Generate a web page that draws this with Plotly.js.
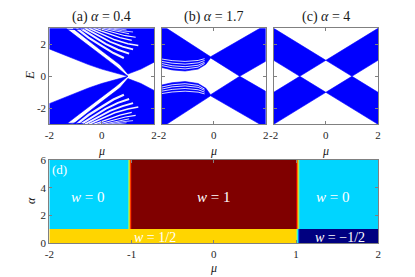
<!DOCTYPE html>
<html><head><meta charset="utf-8">
<script src="https://cdn.plot.ly/plotly-3.0.1.min.js"></script>
<style>html,body{margin:0;padding:0;background:#fff}#chart{width:415px;height:277px}</style>
</head><body><div id="chart"></div>
<script>
// ---------------- data ----------------
const tickMu = [-2, 0, 2];
const tickMuText = ['-2', '0', '2'];
const tickE = [-2, 0, 2];
const tickEText = ['-2', '0', '2'];
const tickMuD = [-2, -1, 0, 1, 2];
const tickMuDText = ['-2', '-1', '0', '1', '2'];
const tickAlpha = [0, 2, 4, 6];
const tickAlphaText = ['0', '2', '4', '6'];

// panel (a): alpha = 0.4  (positive-energy branch; spectrum is +/- symmetric)
const aStripeUpMu = [-2.0, -1.36, -0.9, -0.4, 0.1, 0.55, 1.0];
const aStripeUpE  = [3.0, 3.0, 2.42, 1.8, 1.18, 0.62, 0.0];
const aStripeLoMu = [1.0, 0.5, 0.0, -0.5, -1.0, -1.5, -2.0];
const aStripeLoE  = [0.0, 0.21, 0.45, 0.73, 1.07, 1.38, 1.71];
// upper-right band (densely packed levels)
const aFanMu = [-1.1, -0.62, -0.15, 0.3, 0.7, 1.0, 1.5, 2.0, 2.0];
const aFanE  = [3.0, 2.36, 1.78, 1.22, 0.72, 0.14, 0.45, 0.88, 3.0];
// visible gaps between levels in the upper-right band (wide near the top-left, narrow to the right)
const aGapMu = [
  [-0.96, -0.5, 0.0, 0.45, 0.85],
  [-0.8, -0.32, 0.15, 0.62, 1.05],
  [-0.64, -0.15, 0.32, 0.8, 1.2],
  [-0.48, 0.03, 0.5, 1.0, 1.4],
  [-0.31, 0.22, 0.7, 1.15],
  [-0.13, 0.42, 0.9, 1.3],
  [0.06, 0.6, 1.05],
  [0.26, 0.8, 1.2],
  [0.46, 0.95]
];
const aGapE = [
  [3.0, 2.42, 1.9, 1.45, 1.15],
  [3.0, 2.5, 2.03, 1.66, 1.42],
  [3.0, 2.56, 2.16, 1.86, 1.68],
  [3.0, 2.61, 2.28, 2.04, 1.92],
  [3.0, 2.67, 2.42, 2.25],
  [3.0, 2.73, 2.54, 2.44],
  [3.0, 2.79, 2.66],
  [3.0, 2.84, 2.77],
  [3.0, 2.9]
];
const aGapWidth = [2.2, 2.0, 1.8, 1.5, 1.3, 1.1, 0.9, 0.8, 0.7];
const aTopMu = [-1.35, -1.0, -0.7];
const aTopE  = [2.95, 2.93, 2.97];

// panel (b): alpha = 1.7
const bUpMu = [-2.0, -1.81, -0.12, 1.78, 2.0];
const bUpE  = [3.0, 3.0, 1.22, 3.0, 3.0];
const bLoMu = [2.0, 1.0, -0.12, -0.3, -0.6, -1.1, -1.6, -2.0];
const bLoE  = [0.94, 0.0, 1.15, 0.75, 0.45, 0.33, 0.4, 0.55];
const bGapMu = [-2.0, -1.6, -1.1, -0.6, -0.35];
const bGapE = [
  [1.08, 0.98, 0.93, 0.99, 1.1],
  [0.93, 0.82, 0.76, 0.84, 0.99],
  [0.8, 0.66, 0.6, 0.69, 0.88],
  [0.67, 0.53, 0.46, 0.57, 0.8]
];

// panel (c): alpha = 4
const cMu = [-2, -1, 0, 1, 2];
const cUpE = [3.0, 2.0, 1.0, 2.0, 3.0];
const cLoE = [1.0, 0.0, 1.0, 0.0, 1.0];

// panel (d): winding number w(mu, alpha)
const dMuEdges = [-2, -1.045, -1.03, -1.015, -1, 1, 1.013, 1.026, 1.04, 2];
const dAlphaEdges = [0, 1, 6];
const dWindingLow  = [0.5, 0.5, 0.5, 0.5, 0.5, 0.3, 0.05, -0.25, -0.5];
const dWindingHigh = [0, 0.3, 0.55, 0.8, 1, 0.82, 0.55, 0.28, 0];

// ---------------- drawing ----------------
const BLUE = 'rgb(0,0,255)';
const GAP = 'rgba(255,255,255,0.95)';
const neg = a => a.map(v => -v);
function poly(mu, e, xa, ya) {
  return {type:'scatter', mode:'lines', x:mu, y:e, fill:'toself', fillcolor:BLUE,
    line:{width:0.6, color:BLUE}, hoverinfo:'skip', xaxis:xa, yaxis:ya};
}
function line(mu, e, xa, ya, color, w) {
  return {type:'scatter', mode:'lines', x:mu, y:e, line:{width:w || 1, color:color || BLUE},
    hoverinfo:'skip', xaxis:xa, yaxis:ya};
}
const traces = [];
const signs = [a => a, neg];
// (a)
const aStripeMu = aStripeUpMu.concat(aStripeLoMu);
const aStripeE = aStripeUpE.concat(aStripeLoE);
signs.forEach(f => {
  traces.push(poly(aStripeMu, f(aStripeE), 'x', 'y'));
  traces.push(poly(aFanMu, f(aFanE), 'x', 'y'));
});
signs.forEach(f => {
  aGapE.forEach((row, i) => traces.push(line(aGapMu[i], f(row), 'x', 'y', GAP, aGapWidth[i])));
  traces.push(line(aTopMu, f(aTopE), 'x', 'y'));
});
// (b)
const bMu = bUpMu.concat(bLoMu);
const bE = bUpE.concat(bLoE);
signs.forEach(f => traces.push(poly(bMu, f(bE), 'x2', 'y2')));
signs.forEach(f => bGapE.forEach(row => traces.push(line(bGapMu, f(row), 'x2', 'y2', GAP, 0.9))));
// (c)
const cPolyMu = cMu.concat(cMu.slice().reverse());
const cPolyE = cUpE.concat(cLoE.slice().reverse());
signs.forEach(f => traces.push(poly(cPolyMu, f(cPolyE), 'x3', 'y3')));
// (d)
const JET = [[0,'#000080'],[0.125,'#0000ff'],[0.375,'#00ffff'],[0.625,'#ffff00'],[0.875,'#ff0000'],[1,'#800000']];
traces.push({type:'heatmap', x:dMuEdges, y:dAlphaEdges, z:[dWindingLow, dWindingHigh],
  zmin:-0.5, zmax:1, colorscale:JET, showscale:false, zsmooth:false, hoverinfo:'skip',
  xaxis:'x4', yaxis:'y4'});

const SERIF = 'Liberation Serif, Times New Roman, serif';
const TF = {family:SERIF, size:11, color:'#262626'};
function ax(extra) {
  return Object.assign({ticks:'inside', ticklen:3, tickwidth:1, tickcolor:'#808080',
    showline:true, linecolor:'#808080', linewidth:1, mirror:'allticks',
    showgrid:false, zeroline:false, tickfont:TF, fixedrange:true}, extra);
}
const W = 415, H = 277;
const px = v => v / W, py = v => 1 - v / H;
const topDom = [py(124.3), py(28.3)];
const layout = {
  width:W, height:H, margin:{l:0, r:0, t:0, b:0}, showlegend:false,
  paper_bgcolor:'#fff', plot_bgcolor:'#fff',
  xaxis: ax({domain:[px(49.3), px(154)], range:[-2,2], tickvals:tickMu, ticktext:tickMuText, anchor:'y'}),
  yaxis: ax({domain:topDom, range:[-3,3], tickvals:tickE, ticktext:tickEText, anchor:'x'}),
  xaxis2: ax({domain:[px(161.7), px(265.7)], range:[-2,2], tickvals:tickMu, ticktext:tickMuText, anchor:'y2'}),
  yaxis2: ax({domain:topDom, range:[-3,3], tickvals:tickE, showticklabels:false, anchor:'x2'}),
  xaxis3: ax({domain:[px(273.7), px(378)], range:[-2,2], tickvals:tickMu, ticktext:tickMuText, anchor:'y3'}),
  yaxis3: ax({domain:topDom, range:[-3,3], tickvals:tickE, showticklabels:false, anchor:'x3'}),
  xaxis4: ax({domain:[px(49.3), px(378.3)], range:[-2,2], tickvals:tickMuD, ticktext:tickMuDText, anchor:'y4'}),
  yaxis4: ax({domain:[py(243.3), py(160)], range:[0,6], tickvals:tickAlpha, ticktext:tickAlphaText, anchor:'x4'}),
  annotations: []
};
const A = layout.annotations;
function txt(t, x, y, o) {
  A.push(Object.assign({text:t, x:x, y:y, xref:'paper', yref:'paper', showarrow:false,
    xanchor:'center', yanchor:'middle', font:{family:SERIF, size:14, color:'#1a1a1a'}}, o || {}));
}
const MUF = {family:SERIF, size:12, color:'#1a1a1a'};
txt('(a) <i>α</i> = 0.4', px(101.6), py(17));
txt('(b) <i>α</i> = 1.7', px(213.7), py(17));
txt('(c) <i>α</i> = 4', px(325.8), py(17));
txt('<i>E</i>', px(29), py(76), {textangle:-90, font:{family:SERIF, size:13, color:'#1a1a1a'}});
txt('<i>μ</i>', px(101.6), py(151), {font:MUF});
txt('<i>μ</i>', px(213.7), py(151), {font:MUF});
txt('<i>μ</i>', px(325.8), py(151), {font:MUF});
txt('<i>μ</i>', px(213.8), py(268), {font:MUF});
txt('<i>α</i>', px(31), py(201), {textangle:-90, font:MUF});
function dtxt(t, x, y, size, xanchor) {
  A.push({text:t, x:x, y:y, xref:'x4', yref:'y4', showarrow:false, xanchor:xanchor || 'center',
    yanchor:'middle', font:{family:SERIF, size:size, color:'#ffffff'}});
}
dtxt('(d)', -1.99, 5.35, 13, 'left');
dtxt('<i>w</i> = 0', -1.54, 3.35, 15);
dtxt('<i>w</i> = 1', 0.0, 3.35, 15);
dtxt('<i>w</i> = 0', 1.44, 3.35, 15);
dtxt('<i>w</i> = 1/2', -0.71, 0.42, 14);
dtxt('<i>w</i> = \u22121/2', 1.53, 0.42, 14);

Plotly.newPlot('chart', traces, layout, {staticPlot:true, displayModeBar:false});
</script>
</body></html>
